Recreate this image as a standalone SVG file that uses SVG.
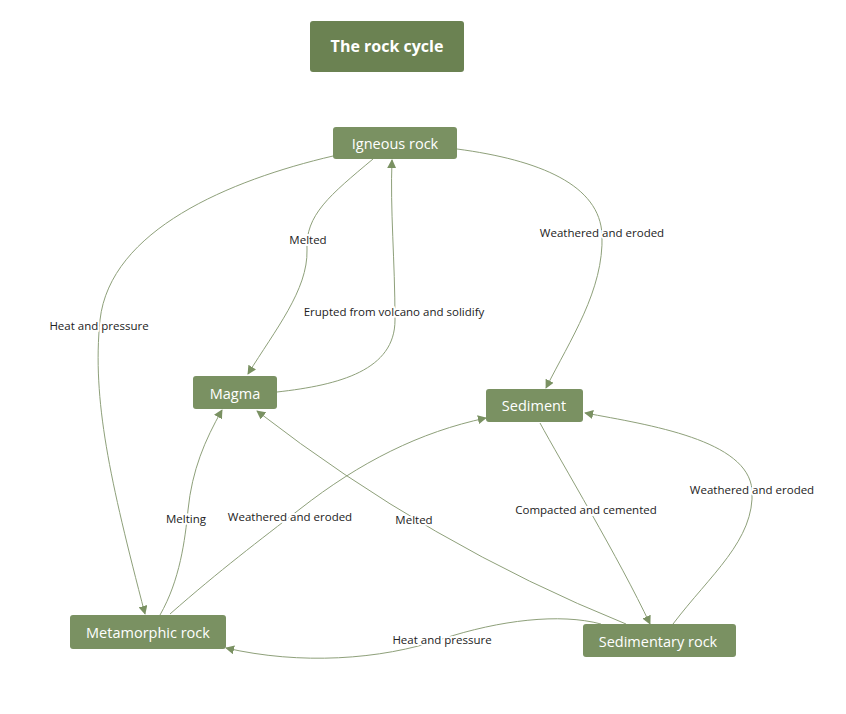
<svg xmlns="http://www.w3.org/2000/svg" width="846" height="714" viewBox="0 0 846 714">
<style>
.node rect{fill:#7a9162}
.title rect{fill:#6b8252}
.node text{fill:#ffffff;font-family:"Open Sans","Liberation Sans",sans-serif;font-size:14.5px;text-anchor:middle;dominant-baseline:central}
.title text{fill:#ffffff;font-family:"Open Sans","Liberation Sans",sans-serif;font-size:16px;font-weight:bold;text-anchor:middle;dominant-baseline:central}
.edge{fill:none;stroke:#8ea07a;stroke-width:1;marker-end:url(#arr)}
.lbl{fill:#222;font-family:"Open Sans","Liberation Sans",sans-serif;font-size:11.5px;text-anchor:middle;dominant-baseline:central;stroke:#fff;stroke-width:4px;paint-order:stroke;stroke-linejoin:round}
</style>
<defs>
<marker id="arr" viewBox="0 0 10 10" refX="9" refY="5" markerWidth="9" markerHeight="9" markerUnits="userSpaceOnUse" orient="auto">
<path d="M0,0 L10,5 L0,10 z" fill="#7a9162"/>
</marker>
</defs>
<rect width="846" height="714" fill="#fff"/>
<g id="connectors">
<path class="edge" d="M373,159 C330,195 305,215 307,250 C308,290 275,330 248,374"/>
<path class="edge" d="M277,392 C340,385 395,370 395,320 C395,260 390,210 392,160"/>
<path class="edge" d="M457,149 C540,160 600,185 602,235 C604,290 570,340 546,388"/>
<path class="edge" d="M333,156 C230,180 110,230 100,320 C92,400 110,480 145,614"/>
<path class="edge" d="M160,615 C180,580 185,540 188,510 C192,470 205,440 222,410"/>
<path class="edge" d="M170,614 C220,570 260,540 300,509 C360,462 420,432 486,418"/>
<path class="edge" d="M626,624 Q430,545 257,411"/>
<path class="edge" d="M540,423 C560,460 620,560 650,624"/>
<path class="edge" d="M673,624 C710,575 755,540 752,490 C748,440 650,425 585,413"/>
<path class="edge" d="M601,624 C560,613 500,620 442,639 C380,660 300,665 226,648"/>
<text class="lbl" x="308" y="239">Melted</text>
<text class="lbl" x="394" y="311">Erupted from volcano and solidify</text>
<text class="lbl" x="602" y="232">Weathered and eroded</text>
<text class="lbl" x="99" y="325">Heat and pressure</text>
<text class="lbl" x="186" y="518">Melting</text>
<text class="lbl" x="290" y="516">Weathered and eroded</text>
<text class="lbl" x="414" y="519">Melted</text>
<text class="lbl" x="586" y="509">Compacted and cemented</text>
<text class="lbl" x="752" y="489">Weathered and eroded</text>
<text class="lbl" x="442" y="639">Heat and pressure</text>
</g>
<g id="title" class="title"><rect x="310" y="21" width="154" height="51" rx="3"/><text x="387" y="46">The rock cycle</text></g>
<g id="igneous" class="node"><rect x="333" y="127" width="124" height="32" rx="3"/><text x="395" y="143">Igneous rock</text></g>
<g id="magma" class="node"><rect x="193" y="376" width="84" height="33" rx="3"/><text x="235" y="393">Magma</text></g>
<g id="sediment" class="node"><rect x="486" y="389" width="97" height="33" rx="3"/><text x="534" y="405">Sediment</text></g>
<g id="metamorphic" class="node"><rect x="70" y="615" width="156" height="34" rx="3"/><text x="148" y="632">Metamorphic rock</text></g>
<g id="sedimentary" class="node"><rect x="583" y="624" width="153" height="33" rx="3"/><text x="658" y="641">Sedimentary rock</text></g>
</svg>
